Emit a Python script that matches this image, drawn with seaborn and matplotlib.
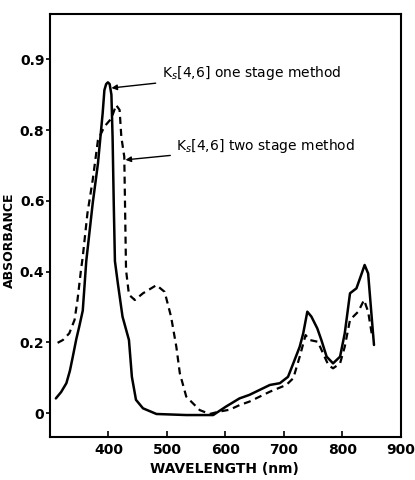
import numpy as np
import pandas as pd
import matplotlib
matplotlib.use("Agg")
import matplotlib.pyplot as plt
import seaborn as sns

# values (wavelength in nm, absorbance)
wl_one = [310, 319, 328, 334, 339, 345, 350, 356, 362, 373, 382, 390, 393, 396, 399, 402, 405,
          407, 409, 411, 416, 424, 435, 440, 447, 459, 482, 533, 579, 601, 624, 641, 676, 693,
          707, 716, 727, 733, 740, 747, 757, 764, 773, 784, 796, 804, 813, 824, 833, 838, 844,
          850, 854]
abs_one = [0.042, 0.06, 0.085, 0.12, 0.16, 0.21, 0.245, 0.29, 0.43, 0.593, 0.706, 0.847, 0.913,
           0.93, 0.935, 0.93, 0.9, 0.78, 0.593, 0.43, 0.367, 0.273, 0.207, 0.103, 0.038, 0.014,
           -0.002, -0.005, -0.005, 0.019, 0.042, 0.052, 0.08, 0.085, 0.103, 0.141, 0.188, 0.226,
           0.287, 0.273, 0.24, 0.207, 0.16, 0.141, 0.16, 0.226, 0.339, 0.353, 0.395, 0.419,
           0.395, 0.273, 0.193]

wl_two = [313, 322, 333, 342, 347, 353, 356, 364, 373, 382, 393, 405, 413, 419, 422, 427, 430,
          435, 445, 459, 482, 496, 507, 516, 522, 533, 556, 573, 590, 607, 624, 641, 676, 704,
          716, 727, 737, 744, 758, 767, 776, 784, 796, 804, 813, 827, 837, 844, 850]
abs_two = [0.199, 0.207, 0.226, 0.264, 0.32, 0.405, 0.442, 0.565, 0.659, 0.772, 0.81, 0.833,
           0.871, 0.857, 0.78, 0.725, 0.405, 0.335, 0.32, 0.339, 0.362, 0.343, 0.273, 0.188,
           0.113, 0.047, 0.009, -0.002, 0.005, 0.01, 0.023, 0.033, 0.061, 0.08, 0.099, 0.16,
           0.221, 0.207, 0.202, 0.169, 0.136, 0.127, 0.141, 0.188, 0.264, 0.287, 0.32, 0.287, 0.226]

x_ticks = [400, 500, 600, 700, 800, 900]
y_ticks = [0, 0.2, 0.4, 0.6, 0.8, 1.0]
y_tick_labels = ["0", "0.2", "0.4", "0.6", "0.8", "0.9"]

df = pd.concat([
    pd.DataFrame({"wl": wl_one, "A": abs_one, "method": "one"}),
    pd.DataFrame({"wl": wl_two, "A": abs_two, "method": "two"}),
])

sns.set_style("ticks")
plt.rcParams["font.family"] = ["DejaVu Sans"]
for key in ["text.color", "axes.labelcolor", "xtick.color", "ytick.color", "axes.edgecolor"]:
    plt.rcParams[key] = "black"

fig = plt.figure(figsize=(4.15, 4.8), dpi=100)
ax = fig.add_axes([0.1205, 0.0896, 0.8455, 0.8812])

sns.lineplot(data=df[df.method == "one"], x="wl", y="A", color="black", lw=1.8,
             sort=False, estimator=None, ax=ax)
sns.lineplot(data=df[df.method == "two"], x="wl", y="A", color="black", lw=1.6,
             sort=False, estimator=None, ax=ax, linestyle=(0, (3.2, 2.2)))

ax.set_xlim(300, 900)
ax.set_ylim(-0.067, 1.128)
ax.set_xticks(x_ticks)
ax.set_yticks(y_ticks)
ax.set_yticklabels(y_tick_labels)
ax.tick_params(axis="x", direction="in", length=4, width=1.2, labelsize=10, pad=4)
ax.tick_params(axis="y", direction="out", length=3, width=1.2, labelsize=10, pad=1)
for lbl in ax.get_xticklabels() + ax.get_yticklabels():
    lbl.set_fontweight("bold")
for s in ax.spines.values():
    s.set_linewidth(1.5)
    s.set_visible(True)

ax.set_xlabel("WAVELENGTH (nm)", fontsize=10, fontweight="bold")
ax.set_ylabel("ABSORBANCE", fontsize=9, fontweight="bold")
ax.xaxis.set_label_coords(0.496, -0.058)
ax.yaxis.set_label_coords(-0.097, 0.466)

arrow = dict(arrowstyle="-|>", color="black", lw=1, mutation_scale=8, shrinkA=2, shrinkB=0)
ax.annotate(r"K$_s$[4,6] one stage method", xy=(405, 0.919), xytext=(491, 0.962),
            fontsize=10, va="center", arrowprops=arrow)
ax.annotate(r"K$_s$[4,6] two stage method", xy=(429, 0.716), xytext=(516, 0.755),
            fontsize=10, va="center", arrowprops=arrow)

fig.savefig("out.png", dpi=100)
